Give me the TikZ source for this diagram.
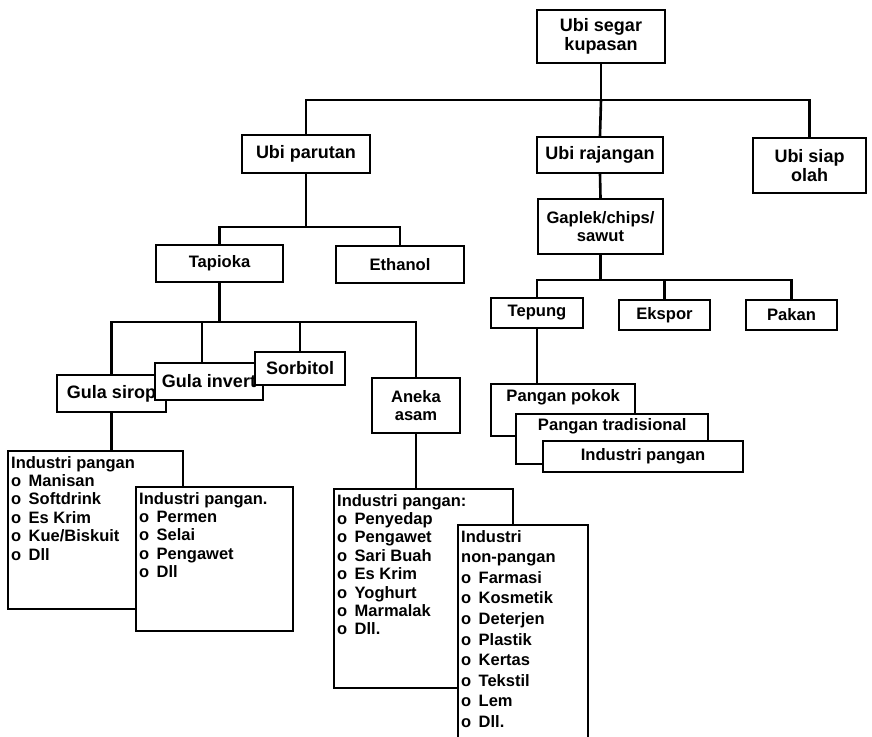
\documentclass[tikz,border=0pt]{standalone}
\usepackage{fontspec}
\setmainfont{Liberation Sans}
\newcommand{\boxtext}[3]{\parbox[t][#1][t]{#2}{#3}}
\newcommand{\bull}{o\hspace{0.45em}}

\begin{document}
\begin{tikzpicture}[
    x=1pt, y=-1pt,
    line width=2.4pt,
    box/.style={draw, fill=white, inner sep=0pt, align=center, font=\fontsize{18}{18.5}\selectfont\bfseries},
    small/.style={box, font=\fontsize{16.6}{18}\selectfont\bfseries},
    listbox/.style={draw, fill=white, anchor=north west, inner xsep=3pt, inner ysep=5pt, font=\fontsize{16.5}{18.4}\selectfont\bfseries},
    link/.style={line width=2.6pt},
]
\clip (0,0) rectangle (872,736);
% bus levels
\coordinate (mainbus) at (0,100);
\coordinate (pbus) at (0,227);
\coordinate (gbus) at (0,280);
\coordinate (tbus) at (0,322);

\node[box, minimum width=128, minimum height=53] (top) at (601,36.5) {Ubi segar\\kupasan};
\node[box, minimum width=128, minimum height=38] (parutan) at (306,154) {Ubi parutan};
\node[box, minimum width=126, minimum height=36] (rajangan) at (600,155) {Ubi rajangan};
\node[box, minimum width=113, minimum height=55] (siap) at (809.5,165.5) {Ubi siap\\olah};
\node[small, minimum width=125, minimum height=55] (gaplek) at (600.5,226.5) {Gaplek/chips/\\sawut};
\node[small, minimum width=127, minimum height=37] (tapioka) at (219.5,263.5) {Tapioka};
\node[small, minimum width=128, minimum height=37] (ethanol) at (400,264.5) {Ethanol};
\node[small, minimum width=92, minimum height=30] (tepung) at (537,313) {Tepung};
\node[small, minimum width=91, minimum height=30] (ekspor) at (664.5,315) {Ekspor};
\node[small, minimum width=91, minimum height=30] (pakan) at (791.5,315) {Pakan};

% products of tapioka, stacked
\node[box, minimum width=109, minimum height=37] (gsirop) at (111.5,393.5) {Gula sirop};
\node[box, minimum width=108, minimum height=37] (ginvert) at (209,381.5) {Gula invert};
\node[box, minimum width=90, minimum height=33] (sorbitol) at (300,368.5) {Sorbitol};
\node[small, minimum width=88, minimum height=55] (aneka) at (416,405.5) {Aneka\\asam};

% products of tepung, stacked
\node[small, anchor=north west, inner ysep=5pt] (pokok) at (490,383) {\boxtext{42pt}{144pt}{\centering Pangan pokok}};
\node[small, anchor=north west, inner ysep=4pt] (tradisi) at (515,413) {\boxtext{42pt}{192pt}{\centering Pangan tradisional}};
\node[small, minimum width=200, minimum height=31] (indpangan) at (643,456.5) {Industri pangan};

% industry lists
\node[listbox] (ind1) at (7,450) {\boxtext{148pt}{169pt}{Industri pangan\\
  \bull Manisan\\ \bull Softdrink\\ \bull Es Krim\\ \bull Kue/Biskuit\\ \bull Dll}};
\node[listbox] (ind2) at (135,486) {\boxtext{134pt}{151pt}{Industri pangan.\\
  \bull Permen\\ \bull Selai\\ \bull Pengawet\\ \bull Dll}};
\node[listbox] (ind3) at (333,488) {\boxtext{189pt}{173pt}{Industri pangan:\\
  \bull Penyedap\\ \bull Pengawet\\ \bull Sari Buah\\ \bull Es Krim\\ \bull Yoghurt\\ \bull Marmalak\\ \bull Dll.}};
\node[listbox, font=\fontsize{16.5}{20.6}\selectfont\bfseries] (ind4) at (457,524) {\boxtext{215pt}{124pt}{Industri\\ non-pangan\\
  \bull Farmasi\\ \bull Kosmetik\\ \bull Deterjen\\ \bull Plastik\\ \bull Kertas\\ \bull Tekstil\\ \bull Lem\\ \bull Dll.}};

% first level
\draw[link] (top.south) -- (top.south |- mainbus);
\draw[link] (parutan.north) |- (siap.north |- mainbus) -- (siap.north);
\draw[link] (top.south |- mainbus) -- (rajangan.north);
% ubi parutan
\draw[link] (parutan.south) -- (parutan.south |- pbus);
\draw[link] (tapioka.north) |- (ethanol.north |- pbus) -- (ethanol.north);
% ubi rajangan
\draw[link] (rajangan.south) -- (gaplek.north);
\draw[link] (gaplek.south) -- (gaplek.south |- gbus);
\draw[link] (tepung.north) |- (pakan.north |- gbus) -- (pakan.north);
\draw[link] (ekspor.north) -- (ekspor.north |- gbus);
% tapioka
\draw[link] (tapioka.south) -- (tapioka.south |- tbus);
\draw[link] (gsirop.north) |- (aneka.north |- tbus) -- (aneka.north);
\draw[link] ([xshift=-7pt]ginvert.north) -- ([xshift=-7pt]ginvert.north |- tbus);
\draw[link] (sorbitol.north) -- (sorbitol.north |- tbus);
% down to the lists
\draw[link] (gsirop.south) -- (gsirop.south |- ind1.north);
\draw[link] (aneka.south) -- (aneka.south |- ind3.north);
\draw[link] (tepung.south) -- (tepung.south |- pokok.north);
\end{tikzpicture}
\end{document}
